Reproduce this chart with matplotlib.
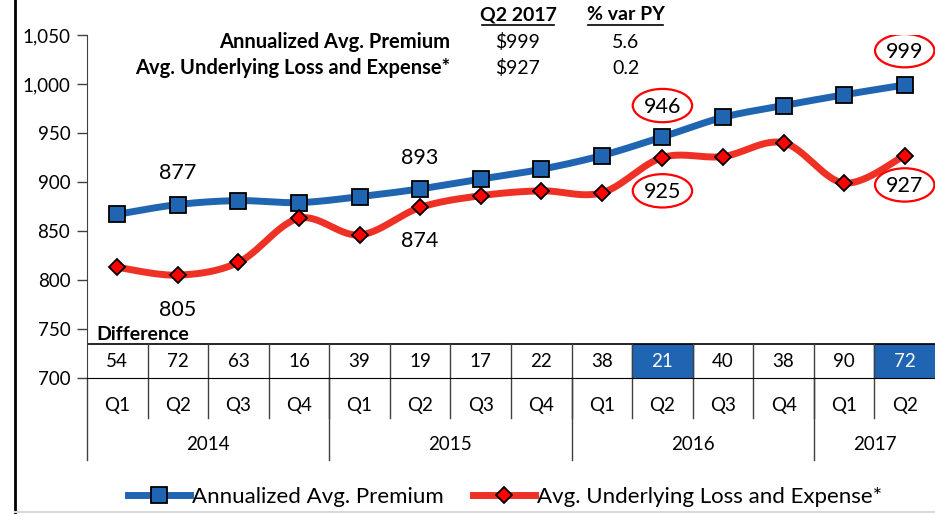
import numpy as np
import matplotlib.pyplot as plt
from matplotlib.patches import Ellipse, Rectangle
from matplotlib.lines import Line2D
from matplotlib.ticker import FuncFormatter

plt.rcParams['font.family'] = ['Lato', 'DejaVu Sans']

quarters = ['Q1', 'Q2', 'Q3', 'Q4', 'Q1', 'Q2', 'Q3', 'Q4',
            'Q1', 'Q2', 'Q3', 'Q4', 'Q1', 'Q2']
years = ['2014', '2015', '2016', '2017']
year_spans = [4, 4, 4, 2]
premium = [867, 877, 881, 879, 885, 893, 903, 913, 927, 946, 966, 978, 989, 999]
loss = [813, 805, 818, 863, 846, 874, 886, 891, 889, 925, 926, 940, 899, 927]
difference = [54, 72, 63, 16, 39, 19, 17, 22, 38, 21, 40, 38, 90, 72]
highlight = [9, 13]

# labelled points: (index, offset)
prem_labels = [(1, 32), (5, 32)]
loss_labels = [(1, -36), (5, -34)]
prem_circled = [(9, 31), (13, 34)]
loss_circled = [(9, -35), (13, -31)]

blue = '#1F65B1'
red = '#EE3124'


def smooth(xs, ys, steps=30):
    # Excel-like smoothed line (Catmull-Rom as cubic bezier)
    p = np.column_stack([xs, ys]).astype(float)
    n = len(p)
    out = []
    t = np.linspace(0, 1, steps)[:, None]
    for i in range(n - 1):
        p0 = p[i - 1] if i > 0 else p[i]
        p3 = p[i + 2] if i + 2 < n else p[i + 1]
        c1 = p[i] + (p[i + 1] - p0) / 6
        c2 = p[i + 1] - (p3 - p[i]) / 6
        seg = ((1 - t) ** 3) * p[i] + 3 * ((1 - t) ** 2) * t * c1 \
            + 3 * (1 - t) * t ** 2 * c2 + t ** 3 * p[i + 1]
        out.append(seg if i == 0 else seg[1:])
    out = np.vstack(out)
    return out[:, 0], out[:, 1]


W, H = 935, 514
fig = plt.figure(figsize=(W / 100, H / 100), dpi=100)
ax = fig.add_axes([87 / W, 1 - 378 / H, 1 - 87 / W, (378 - 35) / H])

x = np.arange(len(premium)) + 0.5

sx, sy = smooth(x, premium)
ax.plot(sx, sy, color=blue, lw=5, solid_capstyle='round', zorder=3)
ax.plot(x, premium, 's', ms=11, mfc=blue, mec='black', mew=1.3, zorder=4)

sx, sy = smooth(x, loss)
ax.plot(sx, sy, color=red, lw=5, solid_capstyle='round', zorder=3)
ax.plot(x, loss, 'D', ms=8, mfc='red', mec='black', mew=1.3, zorder=4)

ax.set_xlim(0, 14)
ax.set_ylim(700, 1050)
ax.set_yticks(range(700, 1051, 50))
ax.yaxis.set_major_formatter(FuncFormatter(lambda v, p: '{:,.0f}'.format(v)))
ax.set_xticks([])
ax.tick_params(axis='y', direction='out', length=7, width=1, labelsize=13.5,
               pad=5, color='#404040')
for s in ['top', 'right']:
    ax.spines[s].set_visible(False)
ax.spines['left'].set_color('#404040')
ax.spines['bottom'].set_color('black')

# data labels
for i, off in prem_labels:
    ax.text(x[i], premium[i] + off, str(premium[i]), ha='center', va='center', fontsize=15.5)
for i, off in loss_labels:
    ax.text(x[i], loss[i] + off, str(loss[i]), ha='center', va='center', fontsize=15.5)
for vals, items in [(premium, prem_circled), (loss, loss_circled)]:
    for i, off in items:
        ax.text(x[i], vals[i] + off, str(vals[i]), ha='center', va='center', fontsize=15.5)
        ax.add_patch(Ellipse((x[i], vals[i] + off + 1), 0.98, 34, fill=False,
                             ec='red', lw=1.6, zorder=5))

# difference row
row_top = 734.5
ax.axhline(row_top, color='black', lw=1.2)
ax.text(0.15, row_top + 1, 'Difference', ha='left', va='bottom', fontsize=14,
        fontweight='bold')
for i, d in enumerate(difference):
    on = i in highlight
    if on:
        ax.add_patch(Rectangle((i, 700), 1, row_top - 700, color=blue, zorder=1))
    ax.text(x[i], (700 + row_top) / 2, str(d), ha='center', va='center',
            fontsize=13.5, color='white' if on else 'black')
    if i > 0:
        ax.plot([i, i], [700, row_top], color='#404040', lw=1, zorder=2)

# quarter / year axis rows below the plot
q_bot = -40 / 343
y_bot = -82 / 343
trans = ax.get_xaxis_transform()
ax.plot([0, 0], [0, y_bot], transform=trans, color='#404040', lw=1, clip_on=False)
for i, q in enumerate(quarters):
    ax.text(x[i], -27 / 343, q, transform=trans, ha='center', va='center', fontsize=13.5)
    if i > 0:
        ax.plot([i, i], [0, q_bot], transform=trans, color='#404040', lw=1, clip_on=False)
start = 0
for yr, span in zip(years, year_spans):
    ax.text(start + span / 2, -66 / 343, yr, transform=trans, ha='center', va='center',
            fontsize=13.5)
    if start > 0:
        ax.plot([start, start], [0, y_bot], transform=trans, color='#404040', lw=1,
                clip_on=False)
    start += span


# header summary
def fx(px):
    return px / W


def fy(py):
    return 1 - py / H


fig.text(fx(450), fy(42), 'Annualized Avg. Premium', ha='right', va='center',
         fontsize=14.5, fontweight='bold')
fig.text(fx(450), fy(68), 'Avg. Underlying Loss and Expense*', ha='right', va='center',
         fontsize=14.5, fontweight='bold')
fig.text(fx(518), fy(15), 'Q2 2017', ha='center', va='center', fontsize=14,
         fontweight='bold')
fig.text(fx(626), fy(15), '% var PY', ha='center', va='center', fontsize=14,
         fontweight='bold')
fig.add_artist(Line2D([fx(482), fx(554)], [fy(25), fy(25)], color='black', lw=1.2))
fig.add_artist(Line2D([fx(588), fx(663)], [fy(25), fy(25)], color='black', lw=1.2))
fig.text(fx(518), fy(42), '$999', ha='center', va='center', fontsize=14)
fig.text(fx(518), fy(68), '$927', ha='center', va='center', fontsize=14)
fig.text(fx(626), fy(42), '5.6', ha='center', va='center', fontsize=14)
fig.text(fx(626), fy(68), '0.2', ha='center', va='center', fontsize=14)

# frame lines
fig.add_artist(Line2D([fx(15), fx(15)], [0, 1], color='black', lw=2))
fig.add_artist(Line2D([fx(15), 1], [fy(512), fy(512)], color='#d9d9d9', lw=1.5))

handles = [
    Line2D([], [], color=blue, lw=5, marker='s', ms=11, mfc=blue, mec='black', mew=1.3),
    Line2D([], [], color=red, lw=5, marker='D', ms=8, mfc='red', mec='black', mew=1.3),
]
fig.legend(handles, ['Annualized Avg. Premium', 'Avg. Underlying Loss and Expense*'],
           loc='center', bbox_to_anchor=(fx(505), fy(497)), ncol=2, frameon=False,
           fontsize=16, handlelength=2.8, handletextpad=0.1, columnspacing=1.3,
           numpoints=1)

fig.savefig('out.png', dpi=100)
